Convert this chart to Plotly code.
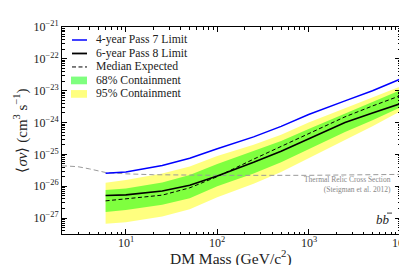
import math
import plotly.graph_objects as go

# ---------------- data ----------------
mass = [6, 10, 25, 50, 100, 250, 500, 1000, 2500, 5000, 10000]

limit_pass7_4yr = [2.57e-26, 2.82e-26, 4.47e-26, 7.59e-26, 1.51e-25, 3.55e-25,
                   7.59e-25, 1.78e-24, 4.8e-24, 1.0e-23, 2.29e-23]
limit_pass8_6yr = [5.13e-27, 5.37e-27, 7.08e-27, 1.07e-26, 2.09e-26, 5.62e-26,
                   1.26e-25, 3.02e-25, 1.0e-24, 2.0e-24, 3.89e-24]
median_expected = [3.47e-27, 3.98e-27, 5.25e-27, 8.91e-27, 2.0e-26, 7.08e-26,
                   1.78e-25, 4.47e-25, 1.51e-24, 3.31e-24, 6.92e-24]

band95_hi = [1.29e-26, 1.58e-26, 2.51e-26, 4.17e-26, 8.91e-26, 2.0e-25,
             4.17e-25, 1.0e-24, 2.82e-24, 6.03e-24, 1.35e-23]
band68_hi = [7.59e-27, 8.51e-27, 1.32e-26, 2.24e-26, 5.01e-26, 1.26e-25,
             2.63e-25, 6.31e-25, 1.91e-24, 4.27e-24, 1.02e-23]
band68_lo = [1.55e-27, 1.78e-27, 2.63e-27, 4.17e-27, 1.0e-26, 2.51e-26,
             5.62e-26, 1.41e-25, 5.01e-25, 1.17e-24, 2.95e-24]
band95_lo = [6.61e-28, 7.41e-28, 1.12e-27, 1.91e-27, 4.47e-27, 1.20e-26,
             2.82e-26, 7.59e-26, 2.82e-25, 7.59e-25, 2.24e-24]

thermal_mass = [2, 3, 4, 6, 10, 20, 100, 1000, 10000]
thermal_xsec = [4.4e-26, 4.1e-26, 3.5e-26, 2.7e-26, 2.45e-26, 2.3e-26,
                2.2e-26, 2.2e-26, 2.35e-26]

x_tickvals = [10, 100, 1000, 10000]
x_ticktext = ["10<sup>1</sup>", "10<sup>2</sup>", "10<sup>3</sup>", "10<sup>4</sup>"]
y_tickvals = [1e-27, 1e-26, 1e-25, 1e-24, 1e-23, 1e-22, 1e-21]
y_ticktext = ["10<sup>\u221227</sup>", "10<sup>\u221226</sup>", "10<sup>\u221225</sup>",
              "10<sup>\u221224</sup>", "10<sup>\u221223</sup>", "10<sup>\u221222</sup>",
              "10<sup>\u221221</sup>"]

legend_labels = ["4-year Pass 7 Limit", "6-year Pass 8 Limit", "Median Expected",
                 "68% Containment", "95% Containment"]

# ---------------- styles ----------------
FONT = "Liberation Serif"
YELLOW = "rgba(255,255,0,0.5)"
GREEN = "rgba(0,255,0,0.5)"
TXT = "#222"

W, H = 407, 265
L, R, T, B = 54, 15, 11, 39
PW, PH = W - L - R, H - T - B


def px(x):
    return (x - L) / PW


def py(y):
    return (H - B - y) / PH


fig = go.Figure()

fig.add_trace(go.Scatter(x=mass + mass[::-1], y=band95_hi + band95_lo[::-1],
                         fill="toself", fillcolor=YELLOW, line=dict(width=0),
                         mode="lines", hoverinfo="skip", showlegend=False))
fig.add_trace(go.Scatter(x=mass + mass[::-1], y=band68_hi + band68_lo[::-1],
                         fill="toself", fillcolor=GREEN, line=dict(width=0),
                         mode="lines", hoverinfo="skip", showlegend=False))
fig.add_trace(go.Scatter(x=thermal_mass, y=thermal_xsec, mode="lines",
                         line=dict(color="#9a9a9a", width=1, dash="5px,3px"),
                         showlegend=False))
fig.add_trace(go.Scatter(x=mass, y=median_expected, mode="lines",
                         line=dict(color="black", width=1, dash="4px,2.5px"),
                         showlegend=False))
fig.add_trace(go.Scatter(x=mass, y=limit_pass8_6yr, mode="lines",
                         line=dict(color="black", width=1.6), showlegend=False))
fig.add_trace(go.Scatter(x=mass, y=limit_pass7_4yr, mode="lines",
                         line=dict(color="#0000ff", width=1.5), showlegend=False))

# ---------------- manual legend ----------------
shapes = []
annotations = []
row_y = [24.5 + 14 * i for i in range(5)]
line_styles = [dict(color="#0000ff", width=1.5),
               dict(color="black", width=1.8),
               dict(color="black", width=1, dash="4px,2.5px")]
for i in range(3):
    shapes.append(dict(type="line", xref="paper", yref="paper",
                       x0=px(64), x1=px(79), y0=py(row_y[i]), y1=py(row_y[i]),
                       line=line_styles[i]))
for i, col in zip([3, 4], [GREEN, YELLOW]):
    shapes.append(dict(type="rect", xref="paper", yref="paper",
                       x0=px(63), x1=px(79), y0=py(row_y[i] - 4), y1=py(row_y[i] + 4),
                       fillcolor=col, line=dict(width=0)))
for i, lab in enumerate(legend_labels):
    annotations.append(dict(text=lab, xref="paper", yref="paper", x=px(86),
                            y=py(row_y[i]), xanchor="left", yanchor="middle",
                            showarrow=False, font=dict(family=FONT, size=11.7, color=TXT)))

annotations.append(dict(text="Thermal Relic Cross Section<br>(Steigman et al. 2012)",
                        xref="paper", yref="paper", align="right",
                        x=px(384.5), y=py(174.8), xanchor="right", yanchor="middle",
                        showarrow=False, font=dict(family=FONT, size=7.5, color="#888")))
annotations.append(dict(text="<i>bb</i>", xref="paper", yref="paper",
                        x=px(384), y=py(211), xanchor="right", yanchor="middle",
                        showarrow=False, font=dict(family=FONT, size=13, color=TXT)))
# bar over the second b
shapes.append(dict(type="line", xref="paper", yref="paper",
                   x0=px(379.0), x1=px(384.0), y0=py(204.3), y1=py(204.3),
                   line=dict(color=TXT, width=0.9)))

# x tick labels and x title placed close to the axis, as in the reference
for v, t in zip(x_tickvals, x_ticktext):
    annotations.append(dict(text=t, xref="x", yref="paper", x=math.log10(v),
                            y=py(234.5), xanchor="center", yanchor="middle",
                            showarrow=False, font=dict(family=FONT, size=12, color=TXT)))
annotations.append(dict(text="DM Mass (GeV/c<sup>2</sup>)", xref="paper", yref="paper",
                        x=px(223), y=py(250.5), xanchor="center", yanchor="middle",
                        showarrow=False, font=dict(family=FONT, size=15.5, color=TXT)))

x_minor = [m * 10 ** k for k in range(0, 4) for m in range(2, 10)]
y_minor = [m * 10.0 ** k for k in range(-28, -21) for m in range(2, 10)]

axis_common = dict(type="log", showgrid=False, zeroline=False, showline=True,
                   linecolor="black", linewidth=1, mirror="allticks",
                   ticks="inside", ticklen=5, tickcolor="black", tickwidth=1,
                   tickfont=dict(family=FONT, size=12, color=TXT))

fig.update_layout(
    width=W, height=H,
    margin=dict(l=L, r=R, t=T, b=B),
    paper_bgcolor="white", plot_bgcolor="white",
    showlegend=False,
    shapes=shapes, annotations=annotations,
    xaxis=dict(**axis_common, range=[math.log10(2), 4],
               tickmode="array", tickvals=x_tickvals, showticklabels=False,
               minor=dict(tickmode="array", tickvals=x_minor, ticks="inside",
                          ticklen=2.5, tickcolor="black", showgrid=False)),
    yaxis=dict(**axis_common, range=[-27.5, -21],
               tickmode="array", tickvals=y_tickvals, ticktext=y_ticktext,
               minor=dict(tickmode="array", tickvals=y_minor, ticks="inside",
                          ticklen=2.5, tickcolor="black", showgrid=False),
               title=dict(text="\u27e8<i>\u03c3v</i>\u27e9 (cm<sup>3</sup> s<sup>\u22121</sup>)",
                          standoff=2, font=dict(family=FONT, size=15, color=TXT))),
)

fig.write_html("out.html")
